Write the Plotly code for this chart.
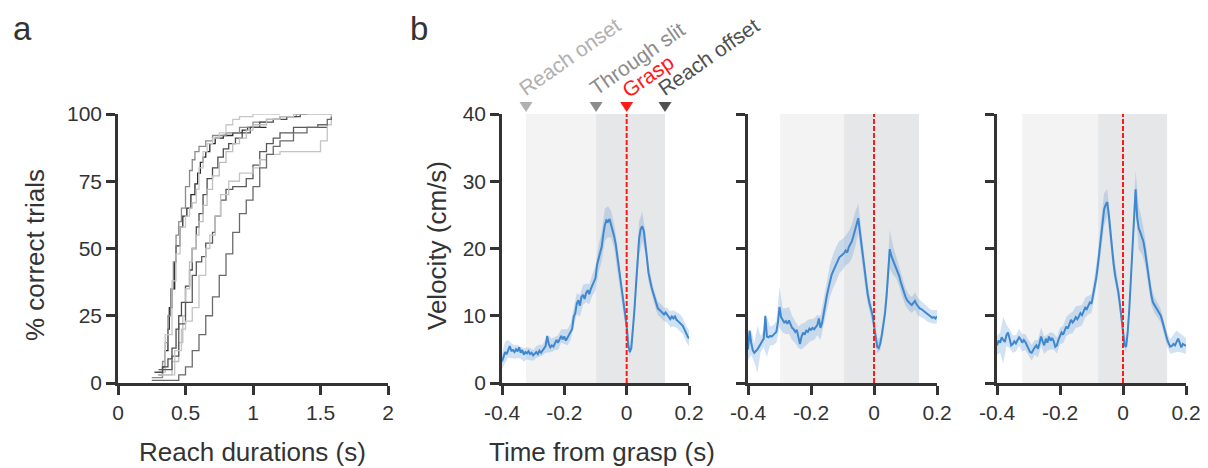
import numpy as np
import plotly.graph_objects as go

# page body adds an 8px margin, so the figure is 8px smaller and all pixel positions shift by 8
W, H = 1200, 460
OFF = 8
FONT = "Liberation Sans, Arial, sans-serif"
INK = "#333333"

# ---- panel a: cumulative reach durations, one step curve per animal ----
dur_1 = [0.30, 0.33, 0.35, 0.37, 0.38, 0.40, 0.42, 0.43, 0.46, 0.48, 0.51, 0.54, 0.57, 0.59,
         0.61, 0.63, 0.65, 0.68, 0.72, 0.78, 0.85, 0.92, 0.96, 1.10]
pct_1 = [3, 6, 12, 20, 28, 35, 45, 51, 58, 62, 65, 70, 74, 78, 82, 84, 86, 89, 91, 92, 93, 94, 95, 95]
dur_2 = [0.25, 0.33, 0.35, 0.37, 0.39, 0.41, 0.43, 0.45, 0.47, 0.50, 0.53, 0.55, 0.57, 0.60,
         0.65, 0.70, 0.80, 0.90, 1.00, 1.10, 1.20, 1.32, 1.40]
pct_2 = [2, 8, 15, 25, 35, 45, 55, 60, 65, 73, 79, 83, 86, 88, 90, 92, 93, 95, 97, 98, 99, 100, 100]
dur_3 = [0.30, 0.35, 0.40, 0.43, 0.46, 0.50, 0.53, 0.55, 0.58, 0.60, 0.63, 0.66, 0.70, 0.75,
         0.80, 0.85, 0.90, 1.00, 1.20]
pct_3 = [4, 18, 38, 48, 58, 62, 65, 67, 72, 80, 86, 89, 91, 93, 96, 98, 99, 100, 100]
dur_4 = [0.27, 0.33, 0.37, 0.40, 0.43, 0.45, 0.47, 0.50, 0.53, 0.55, 0.58, 0.60, 0.63, 0.66,
         0.70, 0.74, 0.78, 0.82, 0.87, 0.92, 0.98, 1.05, 1.15, 1.25, 1.35, 1.40]
pct_4 = [4, 6, 9, 13, 20, 25, 30, 36, 42, 50, 58, 63, 70, 76, 80, 84, 87, 89, 91, 93, 95, 97,
         98, 99, 100, 100]
dur_5 = [0.30, 0.40, 0.45, 0.48, 0.50, 0.53, 0.55, 0.58, 0.60, 0.63, 0.66, 0.70, 0.75, 0.80,
         0.85, 0.90, 0.95, 1.00, 1.10, 1.20, 1.30, 1.58]
pct_5 = [3, 8, 15, 25, 35, 45, 50, 55, 60, 66, 72, 77, 82, 86, 89, 91, 94, 96, 98, 99, 100, 100]
dur_6 = [0.30, 0.40, 0.45, 0.50, 0.55, 0.58, 0.62, 0.65, 0.70, 0.72, 0.76, 0.80, 0.85, 0.95,
         1.00, 1.05, 1.10, 1.15, 1.20, 1.30, 1.55]
pct_6 = [5, 10, 22, 30, 40, 45, 47, 52, 56, 62, 68, 72, 73, 76, 81, 86, 89, 91, 93, 95, 95]
dur_7 = [0.30, 0.42, 0.47, 0.50, 0.55, 0.60, 0.65, 0.68, 0.72, 0.76, 0.82, 0.90, 1.00, 1.05,
         1.10, 1.20, 1.45, 1.50, 1.55, 1.58]
pct_7 = [3, 12, 20, 23, 28, 40, 50, 55, 62, 70, 75, 78, 80, 83, 85, 86, 86, 90, 96, 100]
dur_8 = [0.25, 0.42, 0.45, 0.50, 0.55, 0.60, 0.65, 0.70, 0.75, 0.80, 0.85, 0.90, 0.95, 1.00,
         1.05, 1.10, 1.15, 1.20, 1.30, 1.40, 1.48, 1.55, 1.58]
pct_8 = [1, 1, 3, 6, 12, 18, 25, 32, 40, 48, 56, 63, 68, 73, 80, 85, 88, 90, 93, 95, 96, 98, 99]
cdf_colors = ["#2b2b2b", "#8a8a8a", "#c8c8c8", "#4d4d4d", "#bdbdbd", "#5a5a5a", "#c4c4c4", "#6a6a6a"]

# ---- panel b: mean hand velocity (cm/s), 5 ms bins from -0.4 to 0.2 s ----
vel_1 = [3.2, 3.9, 4.6, 4.3, 5.1, 5.5, 4.8, 4.9, 4.6, 5.0,
         4.7, 5.3, 4.5, 4.9, 4.2, 4.6, 4.4, 4.7, 4.3, 4.5,
         4.1, 4.4, 4.6, 4.3, 4.8, 4.5, 4.9, 5.2, 5.5, 7.0,
         5.8, 5.3, 5.6, 5.4, 5.9, 6.4, 6.0, 6.6, 7.0, 6.5,
         6.9, 6.3, 6.8, 7.2, 7.6, 8.0, 9.8, 10.4, 11.8, 12.3,
         11.5, 12.8, 13.1, 12.5, 13.4, 13.8, 13.2, 14.0, 14.6, 15.0,
         15.6, 17.6, 18.5, 19.6, 20.3, 22.1, 23.5, 24.2, 24.0, 24.4,
         23.6, 22.9, 21.8, 20.6, 18.9, 17.0, 15.1, 13.0, 11.4, 10.2,
         8.5, 5.6, 4.6, 5.2, 7.8, 10.9, 14.6, 18.2, 21.5, 22.9,
         23.3, 22.6, 20.9, 18.6, 16.4, 15.0, 14.2, 13.4, 12.5, 11.6,
         11.1, 10.9, 10.7, 10.5, 10.2, 10.5, 10.1, 9.8, 9.5, 9.9,
         9.6, 9.9, 9.4, 9.2, 9.0, 8.7, 8.5, 8.0, 7.4, 7.0,
         6.6]
vel_2 = [5.0, 7.8, 6.0, 4.9, 4.5, 4.7, 5.0, 5.4, 5.8, 6.3,
         6.6, 10.0, 6.9, 6.8, 7.0, 6.9, 7.1, 7.3, 7.6, 9.0,
         11.3, 9.8, 9.3, 9.0, 9.2, 8.8, 9.3, 8.7, 8.2, 8.0,
         7.6, 7.9, 6.8, 5.8, 6.9, 7.5, 7.2, 7.8, 7.6, 8.1,
         7.9, 8.2, 8.0, 8.4, 8.6, 9.6, 8.2, 8.9, 10.4, 11.6,
         12.9, 14.0, 15.2, 16.0, 16.6, 17.1, 17.7, 18.2, 18.7, 18.9,
         19.1, 19.3, 19.7, 19.4, 20.2, 20.6, 21.1, 21.9, 22.8, 23.7,
         24.5, 22.6, 20.6, 18.6, 16.6, 14.8, 13.2, 12.0, 11.0, 10.2,
         8.6, 6.6, 5.4, 5.2, 5.9, 7.2, 8.6, 10.4, 13.0, 16.8,
         19.9, 18.9, 18.3, 17.8, 17.2, 16.6, 15.9, 15.0, 14.2, 13.4,
         12.8, 12.3, 12.0, 11.8, 11.6, 12.0, 12.2, 11.7, 11.3, 11.1,
         11.0, 10.8, 10.6, 10.4, 10.2, 10.0, 9.9, 9.7, 9.8, 9.6,
         9.9]
vel_3 = [5.6, 6.3, 6.0, 6.8, 6.4, 6.1, 7.1, 7.5, 6.6, 5.6,
         5.8, 6.2, 5.9, 6.3, 6.8, 6.5, 6.0, 6.4, 6.1, 5.6,
         5.2, 4.6, 4.5, 5.0, 5.3, 5.6, 5.1, 5.9, 6.9, 6.2,
         5.6, 6.6, 6.0, 6.9, 6.3, 6.7, 6.2, 5.4, 5.6, 6.4,
         7.0, 7.5, 7.2, 7.9, 8.4, 8.1, 8.8, 9.4, 9.0, 9.3,
         9.8, 9.5, 9.9, 10.4, 10.1, 10.8, 11.2, 11.0, 11.6, 12.0,
         11.8, 12.9, 14.4, 15.6, 17.4, 19.6, 21.8, 24.0, 25.8, 26.5,
         26.9, 25.0, 22.2, 19.8, 17.8, 16.0, 15.0, 13.6, 11.8, 9.6,
         7.2, 5.6, 5.4, 7.6, 11.0, 15.6, 21.0, 25.6, 28.8, 24.6,
         23.0, 22.4, 21.8, 21.0, 19.6, 18.0, 16.2, 14.4, 13.0, 12.0,
         11.6, 11.2, 10.8, 10.4, 10.0, 9.2, 8.2, 7.4, 6.5, 5.9,
         5.4, 5.5, 5.8, 5.6, 6.2, 6.6, 6.0, 5.3, 5.8, 5.6,
         5.5]

# s.e.m. at 10 ms bins
sem_1 = [1.2, 1.6, 1.3, 1.1, 1.0, 1.0, 0.9, 1.0, 0.9, 0.9,
         0.8, 0.9, 0.9, 0.8, 1.0, 1.2, 1.0, 1.0, 1.1, 1.0,
         1.1, 1.2, 1.2, 1.4, 1.6, 1.6, 1.5, 1.4, 1.5, 1.6,
         1.8, 2.0, 2.2, 2.4, 2.3, 2.0, 1.8, 1.6, 1.4, 1.2,
         1.0, 0.9, 1.0, 1.6, 2.6, 2.2, 1.6, 1.3, 1.1, 1.0,
         1.0, 1.0, 1.0, 1.1, 1.2, 1.2, 1.2, 1.3, 1.2, 1.2, 1.2]
sem_2 = [1.6, 1.8, 1.4, 3.5, 1.2, 1.3, 3.0, 1.4, 1.5, 1.6,
         3.0, 1.8, 1.9, 2.0, 1.8, 1.7, 1.6, 1.9, 1.8, 1.8,
         1.6, 1.6, 1.5, 1.8, 2.0, 2.2, 2.4, 2.5, 2.6, 2.4,
         2.3, 2.2, 2.4, 2.5, 2.6, 2.2, 1.8, 1.6, 1.4, 1.2,
         1.0, 1.0, 1.0, 1.4, 1.6, 2.8, 2.2, 1.6, 1.5, 1.4,
         1.3, 1.2, 1.2, 1.3, 1.3, 1.2, 1.1, 1.1, 1.0, 1.0, 1.0]
sem_3 = [1.4, 1.5, 3.5, 1.6, 1.4, 1.3, 1.2, 1.3, 1.3, 1.2,
         1.2, 1.2, 1.1, 1.3, 1.4, 1.3, 1.2, 1.3, 1.2, 1.2,
         1.2, 1.3, 1.4, 1.5, 1.6, 1.6, 1.6, 1.5, 1.5, 1.4,
         1.4, 1.6, 1.8, 2.2, 2.4, 2.0, 1.8, 1.6, 1.4, 1.2,
         1.0, 0.9, 1.1, 1.6, 2.8, 3.2, 2.6, 2.0, 1.6, 1.4,
         1.2, 1.1, 1.0, 1.0, 1.0, 1.1, 1.3, 1.6, 1.4, 1.3, 1.2]

# event times relative to grasp (s)
onset_t = [-0.323, -0.298, -0.320]
slit_t = [-0.098, -0.095, -0.079]
offset_t = [0.123, 0.143, 0.140]
event_names = ["Reach onset", "Through slit", "Grasp", "Reach offset"]
event_colors = ["#b0b0b0", "#8c8c8c", "#ff1a1a", "#505050"]

vel_tick_vals = [-0.4, -0.2, 0, 0.2]
vel_tick_text = ["-0.4", "-0.2", "0", "0.2"]


def px_x(p):
    return (p - OFF) / W


def px_y(p):
    return 1 - (p - OFF) / H


fig = go.Figure()

# panel a
for d, p, c in zip([dur_1, dur_2, dur_3, dur_4, dur_5, dur_6, dur_7, dur_8],
                   [pct_1, pct_2, pct_3, pct_4, pct_5, pct_6, pct_7, pct_8], cdf_colors):
    fig.add_trace(go.Scatter(x=d, y=p, mode="lines", line=dict(color=c, width=1.3, shape="hv"),
                             cliponaxis=False, xaxis="x", yaxis="y"))

# panel b
t_fine = -0.4 + 0.005 * np.arange(len(vel_1))
for k, (v, s) in enumerate(zip([vel_1, vel_2, vel_3], [sem_1, sem_2, sem_3])):
    ax = str(k + 2)
    v = np.array(v)
    s = np.array(s)
    t_c = t_fine[::2]
    up = v[::2] + s
    lo = np.clip(v[::2] - s, 0, None)
    fig.add_trace(go.Scatter(x=np.concatenate([t_c, t_c[::-1]]), y=np.concatenate([up, lo[::-1]]),
                             fill="toself", fillcolor="rgba(90,150,215,0.28)", line=dict(width=0),
                             mode="lines", hoverinfo="skip", xaxis="x" + ax, yaxis="y" + ax))
    fig.add_trace(go.Scatter(x=t_fine, y=v, mode="lines", line=dict(color="#3f87cf", width=2),
                             xaxis="x" + ax, yaxis="y" + ax))
    # shaded epochs
    fig.add_shape(type="rect", xref="x" + ax, yref="y" + ax, x0=onset_t[k], x1=slit_t[k], y0=0, y1=40,
                  fillcolor="#f3f3f3", line_width=0, layer="below")
    fig.add_shape(type="rect", xref="x" + ax, yref="y" + ax, x0=slit_t[k], x1=offset_t[k], y0=0, y1=40,
                  fillcolor="#e6e7e8", line_width=0, layer="below")
    fig.add_shape(type="line", xref="x" + ax, yref="y" + ax, x0=0, x1=0, y0=0, y1=40.3,
                  line=dict(color="#ff1a1a", width=2, dash="5px,2px"), layer="above")

# event markers (triangles) just above the first velocity panel
for t_ev, col in zip([onset_t[0], slit_t[0], 0, offset_t[0]], event_colors):
    fig.add_shape(type="path", xref="x2", yref="paper", xsizemode="pixel", ysizemode="pixel",
                  xanchor=t_ev, yanchor=px_y(114), path="M -6.5,12 L 6.5,12 L 0,2 Z",
                  fillcolor=col, line_width=0, layer="above")

axis_common = dict(showline=True, linecolor=INK, linewidth=2.5, ticks="outside", ticklen=9,
                   tickwidth=2.5, tickcolor=INK, showgrid=False, zeroline=False,
                   tickfont=dict(size=21, color=INK, family=FONT), automargin=False)

y_dom = [px_y(383), px_y(114)]
layout = dict(
    width=W, height=H, margin=dict(l=0, r=0, t=0, b=0),
    plot_bgcolor="white", paper_bgcolor="white", showlegend=False,
    font=dict(family=FONT, color=INK),
    xaxis=dict(axis_common, domain=[px_x(118), px_x(388)], range=[0, 2], anchor="y",
               tickvals=[0, 0.5, 1, 1.5, 2], ticktext=["0", "0.5", "1", "1.5", "2"]),
    yaxis=dict(axis_common, domain=y_dom, range=[0, 100], anchor="x",
               tickvals=[0, 25, 50, 75, 100]),
)
x_doms = [(502, 689), (748, 937), (997, 1186)]
for k, (a, b) in enumerate(x_doms):
    n = str(k + 2)
    layout["xaxis" + n] = dict(axis_common, domain=[px_x(a), px_x(b)], range=[-0.4, 0.2],
                               anchor="y" + n, tickvals=vel_tick_vals, ticktext=vel_tick_text)
    layout["yaxis" + n] = dict(axis_common, domain=y_dom, range=[0, 40], anchor="x" + n,
                               tickvals=[0, 10, 20, 30, 40], showticklabels=(k == 0))
fig.update_layout(**layout)

ann = []
ann.append(dict(text="a", x=px_x(22), y=1, yanchor="top", font=dict(size=33)))
ann.append(dict(text="b", x=px_x(419), y=1, yanchor="top", font=dict(size=33)))
ann.append(dict(text="% correct trials", x=px_x(35), y=px_y(255), textangle=-90, font=dict(size=26)))
ann.append(dict(text="Reach durations (s)", x=px_x(252), y=px_y(452), font=dict(size=26)))
ann.append(dict(text="Velocity (cm/s)", x=px_x(437), y=px_y(246), textangle=-90, font=dict(size=26)))
ann.append(dict(text="Time from grasp (s)", x=px_x(602), y=px_y(452), font=dict(size=26)))
label_pos = [(570, 57), (637, 58), (647, 76), (709, 57)]
for name, col, (lx, ly) in zip(event_names, event_colors, label_pos):
    ann.append(dict(text=name, x=px_x(lx), y=px_y(ly), textangle=-35, font=dict(size=21, color=col)))
for a in ann:
    a.update(xref="paper", yref="paper", showarrow=False, xanchor="center")
    a.setdefault("yanchor", "middle")
    a.setdefault("font", {})
    a["font"].setdefault("color", INK)
    a["font"]["family"] = FONT
fig.update_layout(annotations=ann)

fig.write_html("out.html")
